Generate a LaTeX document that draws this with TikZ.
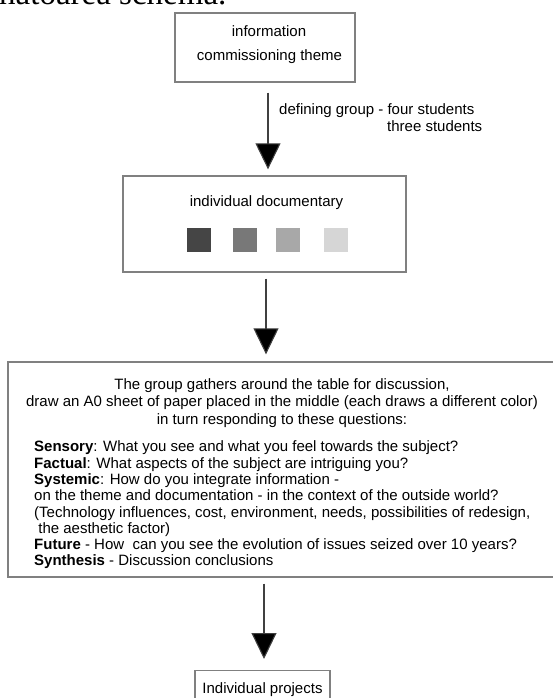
\documentclass[tikz,border=0pt]{standalone}
\usepackage{fontspec}
\setmainfont{Liberation Sans}
\newfontfamily\headserif{Liberation Serif}
\usetikzlibrary{arrows.meta,positioning}

\begin{document}
\begin{tikzpicture}[x=1pt, y=-1pt]%
            \tikzstyle{box}=[draw=black!50, line width=1.3pt, inner sep=0pt, font=\fontsize{15}{16.5}\selectfont];%
            \tikzstyle{txt}=[inner sep=0pt, font=\fontsize{15}{16.5}\selectfont];%
            \tikzstyle{flow}=[draw=black!75, line width=1.1pt, -{Triangle[width=25pt, length=26pt, fill=black]}];%
            \tikzstyle{swatch}=[minimum size=24pt, inner sep=0pt];%
            \useasboundingbox (0,0) rectangle (552,698);

            \node[anchor=base west, inner sep=0pt, font=\fontsize{33}{33}\headserif] (head) at (-1,5) {natoarea schema.};

            \node[box, minimum width=180pt, minimum height=69pt] (theme) at (265, 47.5) {};
            \node[txt] (info) at (269, 31) {information};
            \node[txt] (comm) at (269.5, 57) {commissioning theme};

            \node[box, minimum width=283pt, minimum height=96pt] (docs) at (264.5, 224) {};
            \node[txt] (docstitle) at (266.5, 203) {individual documentary};
            \node[swatch, fill=black!73] (s1) at (198.5, 240) {};
            \node[swatch, fill=black!53] (s2) at (244.5, 240) {};
            \node[swatch, fill=black!34] (s3) at (288, 240) {};
            \node[swatch, fill=black!16] (s4) at (335.5, 240) {};
            \draw[flow, shorten <=10pt, shorten >=6pt] ([xshift=3pt]theme.south) -- ([xshift=3.5pt]docs.north);
            \node[txt, anchor=west, align=left] (groups) at (279, 117.5) {defining group - four students\\\hspace*{108pt}three students};

            \node[box, minimum width=548pt, minimum height=215pt] (table) at (282, 469.5) {};
            \node[txt, align=center, font=\fontsize{15}{17.5}\selectfont] (intro) at (282, 403) {The group gathers around the table for discussion,\\
              draw an A0 sheet of paper placed in the middle (each draws a different color)\\
              in turn responding to these questions:};
            \node[txt, anchor=west, align=left, font=\fontsize{15}{16.3}\selectfont] (questions) at (34, 505) {\textbf{Sensory}: What you see and what you feel towards the subject?\\
              \textbf{Factual}: What aspects of the subject are intriguing you?\\
              \textbf{Systemic}: How do you integrate information -\\
              on the theme and documentation - in the context of the outside world?\\
              (Technology influences, cost, environment, needs, possibilities of redesign,\\
              \ the aesthetic factor)\\
              \textbf{Future} - How\ \ can you see the evolution of issues seized over 10 years?\\
              \textbf{Synthesis} - Discussion conclusions};
            \draw[flow, shorten <=6pt, shorten >=7pt] ([xshift=1.5pt]docs.south) -- ([xshift=-16pt]table.north);

            \node[box, anchor=north, minimum width=135pt, inner ysep=12pt] (projects) at (262.5, 670) {Individual projects};
            \draw[flow, shorten <=6pt, shorten >=11pt] ([xshift=-18pt]table.south) -- ([xshift=1.5pt]projects.north);
        \end{tikzpicture}
\end{document}
